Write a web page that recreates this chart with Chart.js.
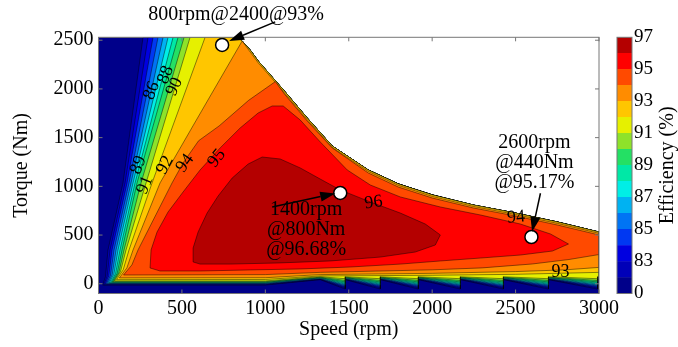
<!DOCTYPE html>
<html>
<head>
<meta charset="utf-8">
<script src="https://cdn.jsdelivr.net/npm/chart.js@4"></script>
<style>
  html, body { margin: 0; padding: 0; background: #fff; }
  #wrap { position: relative; width: 678px; height: 347px; }
  #mapChart { position: absolute; left: 0; top: 0; }
  #barChart { position: absolute; left: 612px; top: 0; }
</style>
</head>
<body>
<div id="wrap">
  <canvas id="mapChart" width="678" height="347"></canvas>
  <canvas id="barChart" width="66" height="347"></canvas>
</div>
<script>
// efficiency levels (%) and band colours, lowest first
const levels = [0, 82, 83, 84, 85, 86, 87, 88, 89, 90, 91, 92, 93, 94, 95, 96];
const levelColors = ['#00008A', '#0000B8', '#0000E0', '#0038F2', '#0074F4', '#00B2F2', '#00EEE6', '#00E8A6',
  '#24E064', '#8EE22A', '#E6F000', '#FFC600', '#FF8C00', '#FF4A00', '#FF0000', '#B40000'];
const colorbarTicks = ['0', '83', '85', '87', '89', '91', '93', '95', '97'];
const speedTicks = [0, 500, 1000, 1500, 2000, 2500, 3000];
const torqueTicks = [0, 500, 1000, 1500, 2000, 2500];

// torque limit curve [speed rpm, torque Nm]
const envelope = [[831,2530],[861,2492],[909,2400],[957,2287],[1041,2122],[1119,1969],[1251,1702],[1401,1414],
  [1617,1168],[1797,1025],[2001,912],[2247,808],[2499,726],[2751,634],[3000,531]];
// 93 / 94 lines run just inside the limit curve
const envelope93 = [[909,2380],[957,2269],[1041,2105],[1119,1951],[1251,1686],[1401,1399],[1617,1154],[1797,1011],
  [2001,897],[2247,794],[2499,712],[2751,620],[3000,518]];
const envelope94 = [[1119,1938],[1251,1671],[1401,1394],[1617,1137],[1797,993],[2001,880],[2247,778],[2499,696],
  [2751,603],[3000,501]];

// low speed side of each contour (82..94), from the bottom corner upwards
const leftEdges = [
  [[25,-13],[42,72],[57,347],[147,1035],[267,2530]],
  [[32,-9],[52,77],[69,347],[159,1035],[297,2530]],
  [[40,-5],[62,82],[81,347],[171,1035],[327,2530]],
  [[48,-1],[72,87],[93,347],[183,1035],[357,2530]],
  [[56,3],[82,92],[105,347],[195,1035],[387,2530]],
  [[64,7],[92,97],[117,347],[207,1035],[417,2530]],
  [[72,11],[102,102],[129,347],[219,1035],[447,2530]],
  [[80,16],[112,107],[141,347],[231,1035],[477,2530]],
  [[88,21],[122,114],[153,347],[255,1035],[513,2530]],
  [[96,29],[132,125],[165,347],[285,1035],[549,2530]],
  [[108,42],[148,143],[183,347],[321,1035],[639,2530]],
  [[125,60],[170,163],[207,347],[369,1035],[566,1620],[861,2492]],
  [[150,90],[200,193],[237,347],[441,1035],[507,1240],[600,1468],[723,1620],[900,1883],[1060,2075]]
];

// bottom of the 82..91 contours: flat torque, torque past 1300 rpm, torque at saw tooth tips
const floorLow = [-13, -9, -5, -1, 3, 7, 11, 16, 21, 29];
const floorHigh = [42, 45, 48, 51, 54, 57, 60, 63, 67, 72];
const floorTip = [-54, -44, -34, -24, -14, -4, 6, 19, 34, 52];
const toothEdges = [1479, 1689, 1917, 2169, 2427, 2697, 2991];

const bottom92 = [[108,42],[1000,44],[1329,80],[2000,87],[2500,97],[3000,117]];
const bottom93 = [[125,60],[1000,62],[1329,94],[2000,107],[2500,125],[2800,143],[3000,168]];
const bottom94 = [[150,90],[1000,94],[1329,117],[2000,143],[2300,163],[2600,203],[2820,249],[3000,300]];

// closed islands
const shape95 = [[309,162],[315,347],[351,531],[417,737],[507,942],[609,1168],[729,1394],[849,1599],[957,1753],
  [1041,1825],[1107,1825],[1209,1681],[1329,1456],[1491,1168],[1629,1014],[1809,891],[2049,788],[2289,706],
  [2529,613],[2709,511],[2817,408],[2721,336],[2529,295],[2289,264],[2049,234],[1809,202],[1509,172],[1209,152],
  [909,142],[609,131],[369,131]];
const shape96 = [[567,224],[567,367],[597,531],[651,726],[717,901],[801,1085],[897,1229],[981,1301],[1089,1281],
  [1209,1189],[1329,1075],[1449,963],[1629,840],[1809,726],[1959,613],[2049,501],[2019,398],[1899,326],
  [1689,274],[1389,234],[1089,214],[789,202],[609,202]];

// marked operating points
const markerSpeed = [741, 1449, 2595];
const markerTorque = [2451, 932, 480];

function toXY(list) {
  return list.map(p => ({ x: p[0], y: p[1] }));
}

function closedShape(left, top, floor) {
  const last = left[left.length - 1];
  const upper = top.filter(p => p[0] > last[0]);
  const pts = left.concat(upper, floor.slice().reverse());
  pts.push(pts[0]);
  return toXY(pts);
}

function floorLine(k) {
  const pts = [[leftEdges[k][0][0], floorLow[k]], [1000, floorLow[k]], [1329, floorHigh[k]]];
  toothEdges.forEach(s => {
    pts.push([s, floorTip[k]]);
    pts.push([s, floorHigh[k]]);
  });
  pts.push([3000, floorHigh[k]]);
  return pts;
}

function buildShapes() {
  const shapes = [closedShape([[0, -100], [0, 2530]], envelope, [[0, -100], [3000, -100]])];
  for (let k = 0; k < 10; k++) {
    shapes.push(closedShape(leftEdges[k], envelope, floorLine(k)));
  }
  shapes.push(closedShape(leftEdges[10], envelope, bottom92));
  shapes.push(closedShape(leftEdges[11], envelope93, bottom93));
  shapes.push(closedShape(leftEdges[12], envelope94, bottom94));
  shapes.push(toXY(shape95.concat([shape95[0]])));
  shapes.push(toXY(shape96.concat([shape96[0]])));
  return shapes;
}

Chart.defaults.font.family = '"Liberation Serif", "Times New Roman", serif';
Chart.defaults.font.size = 20;
Chart.defaults.color = '#000';

// texts on the contour lines
const lineLabels = [
  { text: '86', at: [319, 1982], rot: -68 },
  { text: '88', at: [403, 2143], rot: -68 },
  { text: '90', at: [455, 2023], rot: -65 },
  { text: '89', at: [239, 1219], rot: -68 },
  { text: '91', at: [279, 1014], rot: -68 },
  { text: '92', at: [399, 1219], rot: -62 },
  { text: '94', at: [519, 1237], rot: -55 },
  { text: '95', at: [709, 1288], rot: -52 },
  { text: '96', at: [1649, 833], rot: -8 },
  { text: '94', at: [2503, 682], rot: -5 },
  { text: '93', at: [2769, 113], rot: 0 }
];

const noteTexts = [
  { lines: ['800rpm@2400@93%'], at: [825, 2759] },
  { lines: ['1400rpm', '@800Nm', '@96.68%'], at: [1245, 757] },
  { lines: ['2600rpm', '@440Nm', '@95.17%'], at: [2613, 1446] }
];

const noteArrows = [
  { from: [1059, 2688], to: [783, 2492] },
  { from: [1041, 788], to: [1419, 927] },
  { from: [2649, 929], to: [2599, 534] }
];

const overlayPlugin = {
  id: 'overlay',
  afterDatasetsDraw(chart) {
    const { ctx, chartArea, scales: { x, y } } = chart;
    ctx.save();

    // contour labels
    ctx.fillStyle = '#000';
    ctx.textAlign = 'center';
    ctx.textBaseline = 'middle';
    ctx.font = '18px "Liberation Serif", serif';
    lineLabels.forEach(l => {
      ctx.save();
      ctx.translate(x.getPixelForValue(l.at[0]), y.getPixelForValue(l.at[1]));
      ctx.rotate(l.rot * Math.PI / 180);
      ctx.fillText(l.text, 0, 0);
      ctx.restore();
    });

    // box and inward ticks
    ctx.strokeStyle = '#777';
    ctx.lineWidth = 1;
    ctx.strokeRect(chartArea.left, chartArea.top, chartArea.right - chartArea.left, chartArea.bottom - chartArea.top);
    ctx.beginPath();
    x.ticks.forEach(t => {
      const px = x.getPixelForValue(t.value);
      ctx.moveTo(px, chartArea.bottom); ctx.lineTo(px, chartArea.bottom - 4);
      ctx.moveTo(px, chartArea.top); ctx.lineTo(px, chartArea.top + 4);
    });
    y.ticks.forEach(t => {
      const py = y.getPixelForValue(t.value);
      ctx.moveTo(chartArea.left, py); ctx.lineTo(chartArea.left + 4, py);
      ctx.moveTo(chartArea.right, py); ctx.lineTo(chartArea.right - 4, py);
    });
    ctx.stroke();

    // arrows
    ctx.strokeStyle = '#000';
    ctx.fillStyle = '#000';
    ctx.lineWidth = 1.5;
    noteArrows.forEach(a => {
      const x0 = x.getPixelForValue(a.from[0]), y0 = y.getPixelForValue(a.from[1]);
      const x1 = x.getPixelForValue(a.to[0]), y1 = y.getPixelForValue(a.to[1]);
      const ang = Math.atan2(y1 - y0, x1 - x0);
      const len = 15, half = 5;
      const bx = x1 - len * Math.cos(ang), by = y1 - len * Math.sin(ang);
      ctx.beginPath();
      ctx.moveTo(x0, y0); ctx.lineTo(bx, by);
      ctx.stroke();
      ctx.beginPath();
      ctx.moveTo(x1, y1);
      ctx.lineTo(bx + half * Math.sin(ang), by - half * Math.cos(ang));
      ctx.lineTo(bx - half * Math.sin(ang), by + half * Math.cos(ang));
      ctx.closePath();
      ctx.fill();
    });

    // annotation texts
    ctx.font = '20px "Liberation Serif", serif';
    noteTexts.forEach(n => {
      const cx = x.getPixelForValue(n.at[0]);
      const cy = y.getPixelForValue(n.at[1]);
      n.lines.forEach((line, i) => ctx.fillText(line, cx, cy + i * 20));
    });
    ctx.restore();
  }
};

function renderEfficiencyMap() {
  const shapes = buildShapes();
  const datasets = [{
    data: markerSpeed.map((s, i) => ({ x: s, y: markerTorque[i] })),
    showLine: false,
    pointRadius: 6.5,
    pointBackgroundColor: '#fff',
    pointBorderColor: '#000',
    pointBorderWidth: 1.5
  }];
  // highest level first: Chart.js paints the last dataset first
  for (let i = shapes.length - 1; i >= 0; i--) {
    datasets.push({
      label: String(levels[i]),
      data: shapes[i],
      fill: 'shape',
      backgroundColor: levelColors[i],
      borderColor: 'rgba(0,0,0,0.75)',
      borderWidth: 0.6,
      pointRadius: 0,
      tension: 0
    });
  }

  new Chart(document.getElementById('mapChart'), {
    type: 'line',
    data: { datasets: datasets },
    options: {
      responsive: false,
      animation: false,
      layout: { padding: { left: 6, right: 79, top: 37.3, bottom: 1 } },
      plugins: { legend: { display: false }, tooltip: { enabled: false } },
      scales: {
        x: {
          type: 'linear',
          min: 0,
          max: 3000,
          afterBuildTicks: s => { s.ticks = speedTicks.map(v => ({ value: v })); },
          ticks: { padding: 3, maxRotation: 0, callback: v => String(v) },
          grid: { display: false, drawTicks: false },
          border: { display: false },
          title: { display: true, text: 'Speed (rpm)', padding: { top: 0, bottom: 4 } },
          afterFit: s => { s.height = 52.5; }
        },
        y: {
          type: 'linear',
          min: -100,
          max: 2530,
          afterBuildTicks: s => { s.ticks = torqueTicks.map(v => ({ value: v })); },
          ticks: { padding: 5, callback: v => String(v) },
          grid: { display: false, drawTicks: false },
          border: { display: false },
          title: { display: true, text: 'Torque (Nm)', padding: { top: 4, bottom: 0 } },
          afterFit: s => { s.width = 92.5; }
        }
      }
    },
    plugins: [overlayPlugin]
  });
}

const colorbarFrame = {
  id: 'colorbarFrame',
  afterDraw(chart) {
    const { ctx, chartArea } = chart;
    ctx.save();
    ctx.strokeStyle = '#777';
    ctx.lineWidth = 1;
    ctx.strokeRect(chartArea.left, chartArea.top, chartArea.right - chartArea.left, chartArea.bottom - chartArea.top);
    ctx.translate(56, (chartArea.top + chartArea.bottom) / 2);
    ctx.rotate(-Math.PI / 2);
    ctx.fillStyle = '#000';
    ctx.textAlign = 'center';
    ctx.textBaseline = 'middle';
    ctx.font = '20px "Liberation Serif", serif';
    ctx.fillText('Efficiency (%)', 0, 0);
    ctx.restore();
  }
};

function renderColorbar() {
  new Chart(document.getElementById('barChart'), {
    type: 'bar',
    data: {
      labels: [''],
      datasets: levelColors.map(c => ({
        data: [1],
        backgroundColor: c,
        borderWidth: 0,
        barPercentage: 1,
        categoryPercentage: 1
      }))
    },
    options: {
      responsive: false,
      animation: false,
      layout: { padding: { left: 5, right: 0, top: 37.3, bottom: 53.5 } },
      plugins: { legend: { display: false }, tooltip: { enabled: false } },
      scales: {
        x: { stacked: true, display: false },
        y: {
          stacked: true,
          position: 'right',
          min: 0,
          max: 16,
          ticks: { stepSize: 2, padding: 2, font: { size: 19 }, callback: v => colorbarTicks[v / 2] },
          grid: { display: false, drawTicks: false },
          border: { display: false },
          afterFit: s => { s.width = 46; }
        }
      }
    },
    plugins: [colorbarFrame]
  });
}

renderEfficiencyMap();
renderColorbar();
</script>
</body>
</html>
